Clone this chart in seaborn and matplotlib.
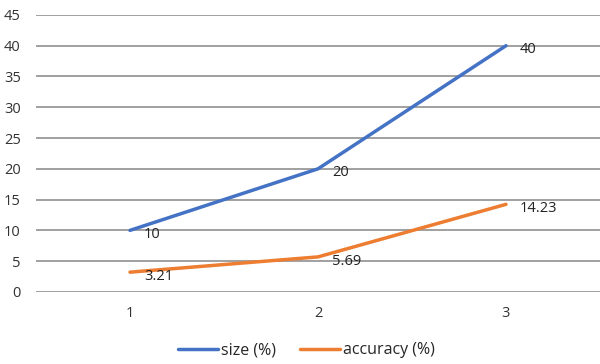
import matplotlib
matplotlib.use("Agg")
import matplotlib.pyplot as plt
import seaborn as sns
import pandas as pd

# Chart data
steps = [1, 2, 3]
size_pct = [10, 20, 40]
accuracy_pct = [3.21, 5.69, 14.23]
series_names = ["size (%)", "accuracy (%)"]
y_ticks = [0, 5, 10, 15, 20, 25, 30, 35, 40, 45]

df = pd.DataFrame({
    "step": steps * 2,
    "value": size_pct + accuracy_pct,
    "series": [series_names[0]] * len(steps) + [series_names[1]] * len(steps),
})

sns.set_theme(style="white")
plt.rcParams["font.family"] = ["Open Sans", "DejaVu Sans"]

fig = plt.figure(figsize=(6.0, 3.64), dpi=100)
ax = fig.add_axes([0.06, 0.198, 0.94, 0.761])

palette = {series_names[0]: "#4472C4", series_names[1]: "#ED7D31"}
sns.lineplot(data=df, x="step", y="value", hue="series", palette=palette,
             linewidth=2.5, ax=ax, legend=True)

# value labels beside each point
for name, vals in zip(series_names, [size_pct, accuracy_pct]):
    for x, v in zip(steps, vals):
        ax.annotate(f"{v:g}", (x, v), xytext=(10, -3), textcoords="offset points",
                    ha="left", va="center", fontsize=10.5, color="#222222")

ax.set_xlim(0.5, 3.5)
ax.set_ylim(0, 45)
ax.set_yticks(y_ticks)
ax.set_xticks(steps)
ax.set_xlabel("")
ax.set_ylabel("")
ax.grid(axis="y", color="#A0A0A0", linewidth=1.4)
ax.set_axisbelow(True)
for s in ax.spines.values():
    s.set_visible(False)
ax.tick_params(axis="both", length=0, labelsize=10.5, colors="#333333")
ax.tick_params(axis="y", pad=11)
ax.tick_params(axis="x", pad=10)

leg = ax.legend(loc="upper center", bbox_to_anchor=(0.48, -0.13), ncol=2,
                frameon=False, fontsize=11.5, handlelength=2.5, columnspacing=1.5,
                handletextpad=0.2)

fig.savefig("out.png", dpi=100)
